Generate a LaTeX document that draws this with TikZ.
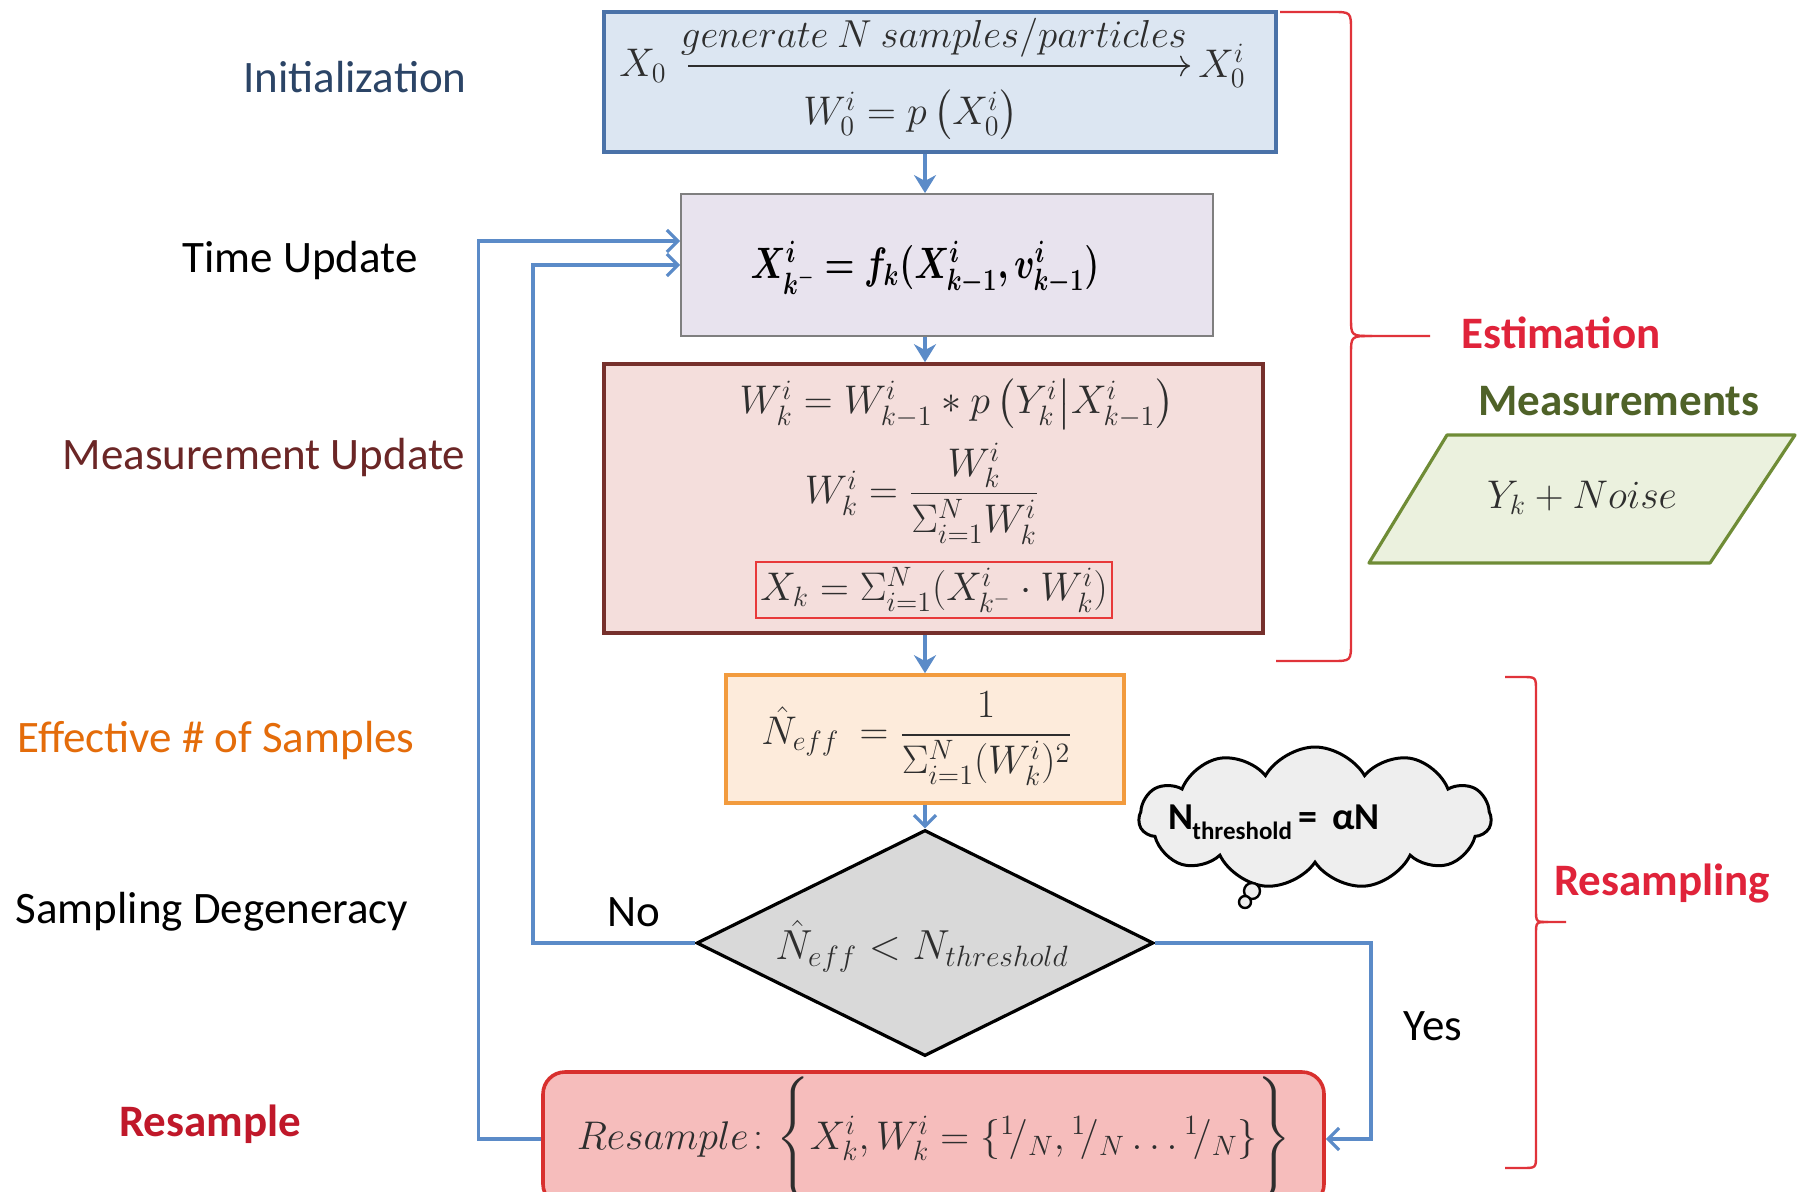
\RequirePackage{fix-cm}
\documentclass[tikz,border=0pt]{standalone}
\usepackage{amsmath,bm,graphicx}
\usepackage[no-math]{fontspec}
\setmainfont{Carlito}
\usetikzlibrary{shapes.geometric,shapes.symbols,arrows.meta}
\definecolor{flowC}{HTML}{5B8BC8}
\definecolor{mathC}{HTML}{2E2E2E}
\definecolor{initF}{HTML}{DCE6F2}\definecolor{initD}{HTML}{4A72A8}
\definecolor{timeF}{HTML}{E8E3EE}\definecolor{timeD}{HTML}{7F7F7F}
\definecolor{measF}{HTML}{F4DEDC}\definecolor{measD}{HTML}{76302C}
\definecolor{innerR}{HTML}{E8393A}
\definecolor{neffF}{HTML}{FDEBDB}\definecolor{neffD}{HTML}{F29B3E}
\definecolor{diaF}{HTML}{D9D9D9}
\definecolor{resF}{HTML}{F6BDBC}\definecolor{resD}{HTML}{D8302E}
\definecolor{paraF}{HTML}{EBF1DE}\definecolor{paraD}{HTML}{6F8C36}
\definecolor{cloudC}{HTML}{EEEEEE}
\definecolor{braceC}{HTML}{E0333A}
\definecolor{lInitC}{HTML}{2B4466}
\definecolor{lMeasC}{HTML}{6B2626}
\definecolor{lEffC}{HTML}{E46C0A}
\definecolor{lResC}{HTML}{C0182A}
\definecolor{lEstC}{HTML}{E0233A}
\definecolor{lMeasuC}{HTML}{4F6228}
\begin{document}
\begin{tikzpicture}[x=0.5pt,y=-0.5pt,
  lbl/.style={font=\fontsize{22.5}{27}\selectfont, inner sep=0},
  mth/.style={font=\fontsize{20}{24}\selectfont, text=mathC, inner sep=0},
  initbox/.style={draw=initD, fill=initF, line width=1.8pt, minimum width=336pt, minimum height=70pt, inner sep=0},
  timebox/.style={draw=timeD, fill=timeF, line width=0.9pt, minimum width=266pt, minimum height=71pt, inner sep=0},
  measbox/.style={draw=measD, fill=measF, line width=1.8pt, minimum width=329.5pt, minimum height=134.5pt, inner sep=0},
  neffbox/.style={draw=neffD, fill=neffF, line width=1.8pt, minimum width=199pt, minimum height=64pt, inner sep=0},
  diabox/.style={diamond, draw=black, fill=diaF, line width=1.6pt, minimum width=228.5pt, minimum height=113pt, inner sep=0},
  resbox/.style={draw=resD, fill=resF, line width=1.8pt, rounded corners=11pt, minimum width=390.5pt, minimum height=67pt, inner sep=0},
  flowF/.style={draw=flowC, line width=1.7pt, -{Stealth[length=9pt,width=11pt]}},
  flowO/.style={draw=flowC, line width=1.7pt, -{Straight Barb[length=5.5pt,width=11pt,line width=1.6pt]}},
  brace/.style={draw=braceC, line width=1.2pt, line join=round}
]
\useasboundingbox (0,0) rectangle (1808,1192);
\clip (0,0) rectangle (1808,1192);
\fill[white] (0,0) rectangle (1808,1192);

% left labels
\node[lbl, text=lInitC] (lInit) at (355,77) {Initialization};
\node[lbl, text=black] (lTime) at (300,261) {Time Update};
\node[lbl, text=lMeasC] (lMeas) at (264,458) {Measurement Update};
\node[lbl, text=lEffC] (lEff) at (216,740) {Effective \# of Samples};
\node[lbl, text=black] (lDeg) at (212,912) {Sampling Degeneracy};
\node[lbl, text=lResC, font=\bfseries\fontsize{22.5}{27}\selectfont] (lRes) at (210,1124) {Resample};

% initialization box
\node[initbox] (init) at (940,82) {};
\node[mth] (x0) at (643,66) {$X_0$};
\node[mth] (x0i) at (1222,66) {$X_0^i$};
\node[mth, font=\fontsize{19.5}{22}\selectfont] (gen) at (934,38) {$generate\ N\ samples/particles$};
\coordinate (gs) at (688,66);
\coordinate (ge) at (1190,66);
\draw[draw=mathC, line width=0.7pt, -{To[length=5pt]}] (gs) -- (ge);
\node[mth] (w0) at (911,115) {$W_0^i = p\left(X_0^i\right)$};

% time update
\node[timebox] (time) at (947,265) {};
\node[mth, font=\fontsize{22}{26}\selectfont, text=black] (fk) at (925,268) {\scalebox{0.78}[1]{$\bm{X^i_{k^-} = f_k(X^i_{k-1}, v^i_{k-1})}$}};

% measurement update
\node[measbox] (meas) at (933.5,498.5) {};
\node[mth] (m1) at (957,404) {$W_k^i = W_{k-1}^i * p\left(Y_k^i \middle| X_{k-1}^i\right)$};
\node[mth] (m2) at (922,494) {$W_k^i = \dfrac{W_k^i}{\Sigma_{i=1}^N W_k^i}$};
\node[mth, draw=innerR, line width=0.6pt, minimum width=178pt, minimum height=28pt] (m3) at (934,590) {$X_k = \Sigma_{i=1}^N (X_{k^-}^i \cdot W_k^i)$};

% effective samples
\node[neffbox] (neff) at (925,739) {};
\node[mth] (nf) at (917,739) {$\hat N_{eff}\ = \dfrac{1}{\Sigma_{i=1}^N (W_k^i)^2}$};

% decision
\node[diabox] (dia) at (925,943) {};
\node[mth, font=\fontsize{21}{24}\selectfont] (dt) at (922,946) {$\hat N_{eff} < N_{threshold}$};

% resample
\node[resbox] (res) at (933.5,1139) {};
\node[mth] (rt) at (934,1139) {$Resample\colon \Bigg\{ X_k^i, W_k^i = \{{}^1\!/_N, {}^1\!/_N \ldots {}^1\!/_N\}\Bigg\}$};

% measurements parallelogram
\node[lbl, text=lMeasuC, font=\bfseries\fontsize{22.5}{27}\selectfont] (lMeasu) at (1619,401) {Measurements};
\draw[draw=paraD, fill=paraF, line width=1.6pt, line join=round] (1447,435) -- (1795,435) -- (1710,563) -- (1369,563) -- cycle;
\node[mth] (yk) at (1582,498) {$Y_k + Noise$};

% cloud
\node[cloud, cloud puffs=11, cloud puff arc=120, aspect=2.4, draw=black, fill=cloudC, line width=1.5pt, minimum width=176pt, minimum height=71pt, inner sep=0] (cloud) at (1315,818) {};
\node[font=\bfseries\fontsize{19}{22}\selectfont, inner sep=0] (cth) at (1274,822) {N\kern-0.5pt{\fontsize{12.5}{14}\selectfont\raisebox{-5pt}{threshold}}\,=\, αN};
\draw[line width=1.2pt, fill=cloudC] (1252,891) circle[radius=4pt];
\draw[line width=1.2pt, fill=cloudC] (1245,902) circle[radius=3pt];

% connectors
\draw[flowF] (init.south -| dia.north) -- (time.north -| dia.north);
\draw[flowF] (time.south -| dia.north) -- (meas.north -| dia.north);
\draw[flowF] (meas.south -| dia.north) -- (neff.north -| dia.north);
\draw[flowO] (neff.south -| dia.north) -- (dia.north);
\draw[flowO] (dia.west) -- ++(-162,0) |- (time.west);
\draw[flowO] (dia.east) -- ++(216,0) |- (res.east);
\draw[flowO] (res.west) -- ++(-63,0) |- ([yshift=12pt]time.west);
\node[lbl] (no) at (634,912) {No};
\node[lbl] (yes) at (1433,1026) {Yes};

% braces
\draw[brace] (1280,12) -- (1332,12) .. controls (1351,12) .. (1351,31) -- (1351,318) .. controls (1351,336) .. (1372,336) -- (1430,336);
\draw[brace] (1372,336) .. controls (1351,336) .. (1351,354) -- (1351,642) .. controls (1351,661) .. (1332,661) -- (1276,661);
\node[lbl, text=lEstC, font=\bfseries\fontsize{22.5}{27}\selectfont] (lEst) at (1561,333) {Estimation};
\draw[brace] (1505,677) -- (1522,677) .. controls (1536,677) .. (1536,691) -- (1536,910) .. controls (1536,922) .. (1548,922) -- (1566,922);
\draw[brace] (1548,922) .. controls (1536,922) .. (1536,934) -- (1536,1155) .. controls (1536,1168) .. (1522,1168) -- (1505,1168);
\node[lbl, text=lEstC, font=\bfseries\fontsize{22.5}{27}\selectfont] (lResamp) at (1662,884) {Resampling};
\end{tikzpicture}
\end{document}
